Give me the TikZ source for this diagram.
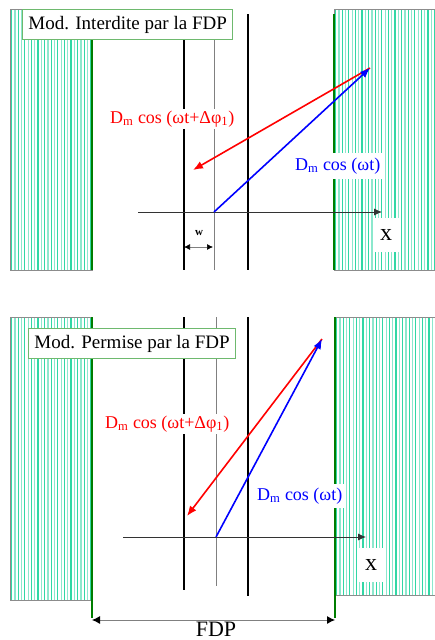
\documentclass[tikz,border=0pt]{standalone}
\usepackage{fontspec}
\setmainfont{Liberation Serif}
\usetikzlibrary{arrows.meta,positioning}
\definecolor{seadeep}{RGB}{50,215,165}
\definecolor{seapale}{RGB}{140,232,205}
\definecolor{wallgreen}{RGB}{0,125,0}
\definecolor{tagframe}{RGB}{110,185,110}
\definecolor{phred}{RGB}{255,0,0}
\definecolor{phblue}{RGB}{0,0,255}
\tikzset{
  >={Latex[length=10pt,width=8pt]},
  wall/.style={draw=wallgreen,line width=1.8pt},
  plate/.style={draw=black,line width=1.7pt},
  guide/.style={draw=black!50,line width=0.7pt},
  axis/.style={->,draw=black!80,line width=0.8pt,>={Latex[length=8pt,width=7pt]}},
  span/.style={<->,draw=black!50,line width=0.9pt,>={Latex[length=#1,width=#1,color=black]}},
  span/.default=8pt,
  tag/.style={draw=tagframe,fill=white,line width=0.9pt,anchor=north west,
    font=\fontsize{19}{21}\selectfont,inner xsep=6pt,minimum height=30pt},
  phasor/.style={->,draw=#1,line width=1.6pt},
  phlabel/.style={text=#1,fill=white,anchor=base west,inner sep=2pt,
    font=\fontsize{18}{20}\selectfont},
  xlabel/.style={fill=white,font=\fontsize{24}{26}\selectfont,
    minimum width=25pt,minimum height=34pt,inner sep=0pt},
}
% hatched slab: x1,y1,x2,y2
\newcommand{\slab}[4]{%
  \begin{scope}
    \clip (#1,#2) rectangle (#3,#4);
    \foreach \k in {0,...,16} {
      \draw[seadeep,line width=1.3pt] ({#1+1.6+6.6*\k},#2) -- ({#1+1.6+6.6*\k},#4);
      \draw[seapale,line width=1.2pt] ({#1+4.9+6.6*\k},#2) -- ({#1+4.9+6.6*\k},#4);
    }
  \end{scope}
  \draw[black!45,line width=0.7pt] (#1,#2) rectangle (#3,#4);
}

\begin{document}
\begin{tikzpicture}[x=1pt,y=-1pt]
  \useasboundingbox (0,0) rectangle (435,640);

  % ---- forbidden mode ----
  \slab{10}{9}{92}{270}
  \slab{334}{9}{435}{270}
  \draw[wall] (92,9) -- (92,270);
  \draw[wall] (334,14) -- (334,270);
  \draw[plate] (184,39) -- (184,270);
  \draw[plate] (248,14) -- (248,270);
  \draw[guide] (214,39) -- (214,270);

  \coordinate (axL1) at (138,212);
  \coordinate (axR1) at (382,212);
  \coordinate (o1) at (214,212);
  \coordinate (tip1) at (370,68);
  \coordinate (red1) at (193,170);
  \coordinate (w1) at (184,247);
  \coordinate (w2) at (213,247);

  \draw[axis] (axL1) -- (axR1);
  \node[phlabel=phred] (redlab1) at (108,123) {D\textsubscript{m} cos (ωt+Δφ\textsubscript{1})};
  \node[phlabel=phblue,inner sep=5pt] (bluelab1) at (290,170) {D\textsubscript{m} cos (ωt)};
  \draw[phasor=phred] (tip1) -- (red1);
  \draw[phasor=phblue] (o1) -- (tip1);
  \draw[span=6pt,line width=0.7pt] (w1) -- (w2);
  \node[font=\fontsize{11}{12}\selectfont\bfseries] (wlab) at (199,233) {w};
  \node[xlabel] (xlab1) at (386,235) {x};
  \node[tag] (forbid) at (22,9) {Mod. Interdite par la FDP};

  % ---- allowed mode ----
  \slab{10}{317}{92}{600}
  \slab{335}{317}{435}{595}
  \draw[wall] (92,317) -- (92,618);
  \draw[wall] (335,317) -- (335,618);
  \draw[plate] (184,317) -- (184,590);
  \draw[plate] (248,317) -- (248,596);
  \draw[guide] (216,317) -- (216,586);

  \coordinate (axL2) at (123,537);
  \coordinate (axR2) at (366,537);
  \coordinate (o2) at (216,537);
  \coordinate (tip2) at (322,339);
  \coordinate (red2) at (187,516);

  \draw[axis] (axL2) -- (axR2);
  \node[phlabel=phred] (redlab2) at (103,428) {D\textsubscript{m} cos (ωt+Δφ\textsubscript{1})};
  \node[phlabel=phblue,inner sep=4pt] (bluelab2) at (253,500) {D\textsubscript{m} cos (ωt)};
  \draw[phasor=phred] (tip2) -- (red2);
  \draw[phasor=phblue] (o2) -- (tip2);
  \node[xlabel] (xlab2) at (371,565) {x};
  \node[tag] (allow) at (28,328) {Mod. Permise par la FDP};

  % FDP width
  \coordinate (fdpL) at (92,620);
  \coordinate (fdpR) at (335,620);
  \draw[span] (fdpL) -- (fdpR);
  \node[anchor=base,font=\fontsize{22}{24}\selectfont,inner sep=0pt] (fdp) at (216,636) {FDP};
\end{tikzpicture}
\end{document}
